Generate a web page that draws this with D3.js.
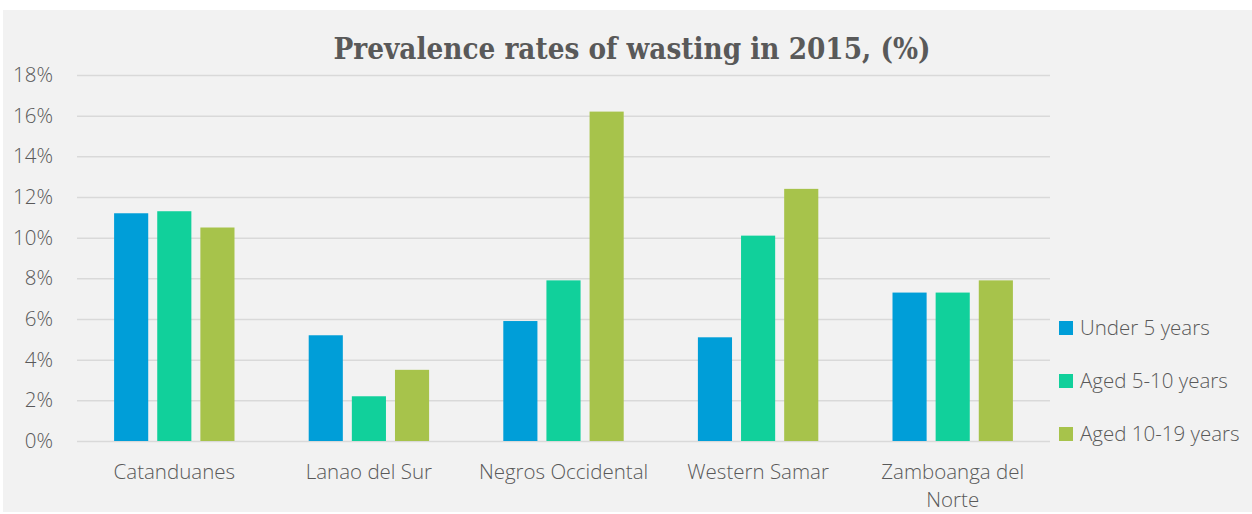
<!DOCTYPE html>
<html><head><meta charset="utf-8">
<script src="https://cdn.jsdelivr.net/npm/d3@7"></script>
<style>
html,body{margin:0;padding:0;background:#fff;}
svg{display:block;}
</style></head>
<body><svg id="c" width="1252" height="514"></svg>
<script>
const categories = ["Catanduanes", "Lanao del Sur", "Negros Occidental", "Western Samar", "Zamboanga del Norte"];
const seriesNames = ["Under 5 years", "Aged 5-10 years", "Aged 10-19 years"];
const under5 = [11.2, 5.2, 5.9, 5.1, 7.3];
const aged5to10 = [11.3, 2.2, 7.9, 10.1, 7.3];
const aged10to19 = [10.5, 3.5, 16.2, 12.4, 7.9];
const yTicks = [0, 2, 4, 6, 8, 10, 12, 14, 16, 18];
const colors = ["#009ed8", "#11d09b", "#a7c34b"];
const title = "Prevalence rates of wasting in 2015, (%)";

const series = [under5, aged5to10, aged10to19];
const svg = d3.select("#c");
svg.append("rect").attr("x", 3).attr("y", 10).attr("width", 1249).attr("height", 502).attr("fill", "#f2f2f2");

const font = "'Open Sans', sans-serif";
const fs = "20.5px";
const pLeft = 77, pRight = 1050, pTop = 75, pBottom = 441;
const x = d3.scaleBand().domain(categories).range([pLeft, pRight]).paddingInner(0).paddingOuter(0);
const y = d3.scaleLinear().domain([0, 18]).range([pBottom, pTop]);
const inner = d3.scaleBand().domain([0,1,2]).range([0, x.bandwidth()]).paddingInner(0.209).paddingOuter(0.86);

// grid
const gy = svg.append("g").attr("transform", `translate(${pLeft},0)`)
  .call(d3.axisLeft(y).tickValues(yTicks).tickSize(-(pRight-pLeft)).tickFormat(d => d + "%").tickPadding(24));
gy.select(".domain").remove();
gy.selectAll(".tick line").attr("stroke", "#d9d9d9").attr("stroke-width", 1.5);
gy.selectAll(".tick text").attr("fill", "#595959").style("font-family", font).style("font-size", fs).style("font-weight", 300);

// bars
categories.forEach((c, ci) => {
  series.forEach((s, si) => {
    svg.append("rect")
      .attr("x", x(c) + inner(si))
      .attr("y", y(s[ci]))
      .attr("width", inner.bandwidth())
      .attr("height", y(0) - y(s[ci]))
      .attr("fill", colors[si]);
  });
});

// x labels
const xl = svg.append("g").attr("transform", `translate(0,${pBottom})`)
  .call(d3.axisBottom(x).tickSize(0).tickPadding(0).tickFormat(""));
xl.select(".domain").remove();
xl.selectAll(".tick").each(function(d){
  const g = d3.select(this);
  const lines = d === "Zamboanga del Norte" ? ["Zamboanga del", "Norte"] : [d];
  lines.forEach((t, i) => {
    g.append("text").text(t).attr("y", 38 + i*28).attr("text-anchor", "middle")
      .attr("fill", "#595959").style("font-family", font).style("font-size", fs).style("font-weight", 300);
  });
});

// title
svg.append("text").text(title).attr("x", 632).attr("y", 59).attr("text-anchor", "middle")
  .attr("textLength", 597).attr("lengthAdjust", "spacingAndGlyphs")
  .attr("fill", "#595959").style("font-family", "'DejaVu Serif', serif").style("font-weight", "bold").style("font-size", "29px");

// legend
const leg = svg.append("g");
seriesNames.forEach((n, i) => {
  const cy = 328 + i*53;
  leg.append("rect").attr("x", 1059).attr("y", cy - 7).attr("width", 14).attr("height", 14).attr("fill", colors[i]);
  leg.append("text").text(n).attr("x", 1080).attr("y", cy + 7).attr("fill", "#595959")
    .style("font-family", font).style("font-size", fs).style("font-weight", 300);
});
</script></body></html>
